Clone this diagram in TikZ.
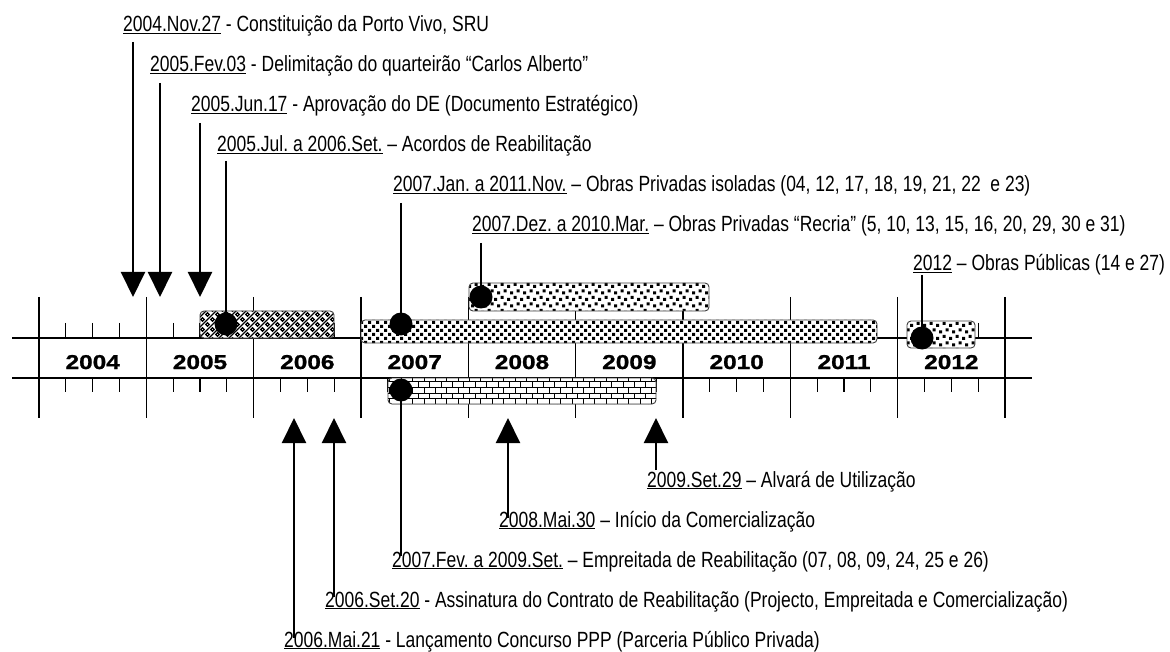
\documentclass[tikz,border=0pt]{standalone}
\usepackage{fontspec}
\setmainfont{Liberation Sans}
\newfontfamily\lblfont[FakeStretch=0.795]{Liberation Sans}
\newfontfamily\yearfont[FakeStretch=1.22, FakeBold=1.2]{Liberation Sans}
\usetikzlibrary{arrows.meta,patterns}
\frenchspacing

% fill patterns of the bars
\pgfdeclarepatternformonly{densedots}{\pgfqpoint{-1pt}{-1pt}}{\pgfqpoint{9pt}{9pt}}{\pgfqpoint{8pt}{8pt}}{%
  \pgfpathrectangle{\pgfqpoint{0pt}{0pt}}{\pgfqpoint{3.2pt}{3.2pt}}%
  \pgfpathrectangle{\pgfqpoint{4pt}{4pt}}{\pgfqpoint{3.2pt}{3.2pt}}%
  \pgfusepath{fill}}
\pgfdeclarepatternformonly{sparsedots}{\pgfqpoint{-1pt}{-1pt}}{\pgfqpoint{14pt}{14pt}}{\pgfqpoint{13pt}{13pt}}{%
  \pgfpathrectangle{\pgfqpoint{0pt}{0pt}}{\pgfqpoint{3.2pt}{3.2pt}}%
  \pgfpathrectangle{\pgfqpoint{6.5pt}{2pt}}{\pgfqpoint{3.2pt}{3.2pt}}%
  \pgfpathrectangle{\pgfqpoint{3pt}{6.5pt}}{\pgfqpoint{3.2pt}{3.2pt}}%
  \pgfpathrectangle{\pgfqpoint{9.5pt}{8.5pt}}{\pgfqpoint{3.2pt}{3.2pt}}%
  \pgfusepath{fill}}
\pgfdeclarepatternformonly{weave}{\pgfqpoint{-1pt}{-1pt}}{\pgfqpoint{11pt}{11pt}}{\pgfqpoint{10pt}{10pt}}{%
  \pgfsetlinewidth{1.3pt}%
  \pgfpathcircle{\pgfqpoint{2.5pt}{2.5pt}}{1.8pt}%
  \pgfpathcircle{\pgfqpoint{7.5pt}{7.5pt}}{1.8pt}%
  \pgfpathmoveto{\pgfqpoint{5pt}{0pt}}\pgfpathlineto{\pgfqpoint{10pt}{5pt}}%
  \pgfpathmoveto{\pgfqpoint{0pt}{5pt}}\pgfpathlineto{\pgfqpoint{5pt}{10pt}}%
  \pgfusepath{stroke}}

\tikzset{
  axisline/.style={line width=1.4pt},
  yeartick/.style={line width=1.3pt},
  qtick/.style={line width=1.1pt},
  yearlabel/.style={
    font=\yearfont\bfseries\fontsize{20}{24}\selectfont,
    inner sep=0pt, anchor=base
  },
  event/.style={
    font=\lblfont\fontsize{22}{26}\selectfont,
    inner sep=0pt, anchor=base west
  },
  timebar/.style={
    draw=black!75, line width=0.9pt, rounded corners=4pt,
    preaction={fill=white}
  },
  dot/.style={circle, fill=black, inner sep=0pt, minimum size=23pt},
  stem/.style={line width=2pt},
  arr/.style={stem, -{Triangle[length=25pt,width=24pt]}},
}

\begin{document}
\begin{tikzpicture}[x=1pt, y=-1pt]

  \path[use as bounding box, fill=white] (0,0) rectangle (1170,652);

  % axis and ticks
  \draw[axisline] (12,338) -- (1032,338);
  \draw[axisline] (12,378) -- (1032,378);
  \foreach \k in {0,...,9}
    \draw[yeartick] ({39+107.33*\k},297) -- ({39+107.33*\k},418);
  \foreach \k in {0,...,8}
    \foreach \q in {1,2,3} {
      \draw[qtick] ({39+107.33*(\k+\q/4)},323) -- ({39+107.33*(\k+\q/4)},338);
      \draw[qtick] ({39+107.33*(\k+\q/4)},378) -- ({39+107.33*(\k+\q/4)},392);
    }
  \foreach \yr [count=\k from 0] in {2004,...,2012}
    \node[yearlabel] (y\yr) at ({92.7+107.33*\k},369) {\yr};

  % bars
  \path[timebar, pattern=weave] (200,311) rectangle (334,338);
  \path[timebar, pattern=densedots] (361,320) rectangle (877,343);
  \path[timebar, pattern=sparsedots] (469,283) rectangle (709,311);
  \path[timebar, pattern=sparsedots] (907,321) rectangle (975,348);
  \path[timebar, pattern=bricks] (388,378) rectangle (656,404);

  \node[dot] (dAcordos) at (226,324) {};
  \node[dot] (dIsoladas) at (401,324) {};
  \node[dot] (dRecria) at (481,297) {};
  \node[dot] (dPublicas) at (922,338) {};
  \node[dot] (dEmpreitada) at (401,390) {};

  % events above
  \node[event] (e1) at (123,32)
    {\underline{2004.Nov.27} - Constituição da Porto Vivo, SRU};
  \node[event] (e2) at (150,72)
    {\underline{2005.Fev.03} - Delimitação do quarteirão “Carlos Alberto”};
  \node[event] (e3) at (191,112)
    {\underline{2005.Jun.17} - Aprovação do DE (Documento Estratégico)};
  \node[event] (e4) at (217,152)
    {\underline{2005.Jul. a 2006.Set.} – Acordos de Reabilitação};
  \node[event] (e5) at (393,192)
    {\underline{2007.Jan. a 2011.Nov.} – Obras Privadas isoladas (04, 12, 17, 18, 19, 21, 22~ e 23)};
  \node[event] (e6) at (472,232)
    {\underline{2007.Dez. a 2010.Mar.} – Obras Privadas “Recria” (5, 10, 13, 15, 16, 20, 29, 30 e 31)};
  \node[event] (e7) at (913,271)
    {\underline{2012} – Obras Públicas (14 e 27)};

  % events below
  \node[event] (e8) at (647,487)
    {\underline{2009.Set.29} – Alvará de Utilização};
  \node[event] (e9) at (499,527)
    {\underline{2008.Mai.30} – Início da Comercialização};
  \node[event] (e10) at (392,567)
    {\underline{2007.Fev. a 2009.Set.} – Empreitada de Reabilitação (07, 08, 09, 24, 25 e 26)};
  \node[event] (e11) at (325,607)
    {\underline{2006.Set.20} - Assinatura do Contrato de Reabilitação (Projecto, Empreitada e Comercialização)};
  \node[event] (e12) at (284,647)
    {\underline{2006.Mai.21} - Lançamento Concurso PPP (Parceria Público Privada)};

  % stem ends
  \coordinate (s1) at (133,42);  \coordinate (h1) at (133,297);
  \coordinate (s2) at (160,83);  \coordinate (h2) at (160,297);
  \coordinate (s3) at (200,123); \coordinate (h3) at (200,297);
  \coordinate (s4) at (226,161);
  \coordinate (s5) at (401,203);
  \coordinate (s6) at (481,243);
  \coordinate (s7) at (922,275);
  \coordinate (s8) at (656,470);  \coordinate (h8) at (656,418);
  \coordinate (s9) at (508,518);  \coordinate (h9) at (508,418);
  \coordinate (s10) at (401,556);
  \coordinate (s11) at (334,597); \coordinate (h11) at (334,418);
  \coordinate (s12) at (294,638); \coordinate (h12) at (294,418);

  % Arrows
  \draw[arr] (s1) -- (h1);
  \draw[arr] (s2) -- (h2);
  \draw[arr] (s3) -- (h3);
  \draw[stem] (s4) -- (dAcordos.center);
  \draw[stem] (s5) -- (dIsoladas.center);
  \draw[stem] (s6) -- (dRecria.center);
  \draw[stem] (s7) -- (dPublicas.center);
  \draw[arr] (s8) -- (h8);
  \draw[arr] (s9) -- (h9);
  \draw[stem] (s10) -- (dEmpreitada.center);
  \draw[arr] (s11) -- (h11);
  \draw[arr] (s12) -- (h12);

\end{tikzpicture}
\end{document}
